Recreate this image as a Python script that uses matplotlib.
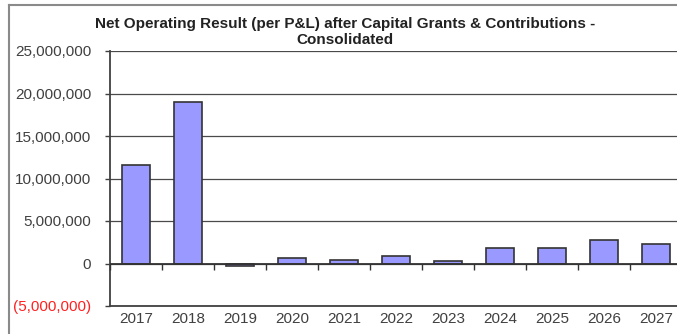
import numpy as np
import matplotlib
matplotlib.use("Agg")
import matplotlib.pyplot as plt
from matplotlib.lines import Line2D
from matplotlib.ticker import FuncFormatter

plt.rcParams['font.family'] = ['Liberation Sans', 'DejaVu Sans']

# Net operating result per year (AUD)
years = ["2017", "2018", "2019", "2020", "2021", "2022",
         "2023", "2024", "2025", "2026", "2027"]
net_result = [11560000, 19000000, -350000, 600000, 450000, 850000,
              350000, 1880000, 1850000, 2780000, 2240000]

y_ticks = [-5000000, 0, 5000000, 10000000, 15000000, 20000000, 25000000]
title = "Net Operating Result (per P&L) after Capital Grants & Contributions -\nConsolidated"

W, H = 677, 334
fig = plt.figure(figsize=(W / 100, H / 100), dpi=100)

# plot area in pixel terms
left, right, top, bottom = 110, 682, 51, 306
ax = fig.add_axes([left / W, (H - bottom) / H, (right - left) / W, (bottom - top) / H])

x = np.arange(len(years))
ax.bar(x, net_result, width=0.52, color="#9999FF", edgecolor="#333333",
       linewidth=1.2, zorder=3)

ax.set_xlim(-0.5, len(years) - 0.5)
ax.set_ylim(y_ticks[0], y_ticks[-1])
ax.set_yticks(y_ticks)


def money(v, pos):
    if v < 0:
        return "({:,.0f})".format(-v)
    return "{:,.0f}".format(v)


ax.yaxis.set_major_formatter(FuncFormatter(money))
ax.set_xticks(x)
ax.set_xticklabels(years)

ax.tick_params(axis="y", direction="out", length=3.5, width=1, color="#404040",
               labelsize=11, labelcolor="#404040", pad=10)
ax.tick_params(axis="x", length=0, labelsize=11, labelcolor="#404040", pad=4)
for lbl, v in zip(ax.get_yticklabels(), y_ticks):
    if v < 0:
        lbl.set_color("#FF2020")

ax.grid(axis="y", color="#4a4a4a", linewidth=0.9, zorder=0)
ax.set_axisbelow(True)

for s in ("top", "right"):
    ax.spines[s].set_visible(False)
for s in ("left", "bottom"):
    ax.spines[s].set_color("#404040")
    ax.spines[s].set_linewidth(1.3)

# category axis drawn at zero with boundary tick marks pointing down
ax.axhline(0, color="#333333", linewidth=1.3, zorder=4)
bounds = np.arange(len(years) + 1) - 0.5
ax.plot(bounds, np.zeros_like(bounds), ls="none", marker=3, ms=4,
        mew=1, color="#333333", clip_on=False, zorder=4)

fig.text(345 / W, 1 - 32 / H, title, ha="center", va="center",
         fontsize=11, fontweight="bold", color="#222222", linespacing=1.15)

# outer chart frame (only top and left edges fall inside the image)
fig.add_artist(Line2D([9 / W, 9 / W], [0, 1 - 5 / H], color="#8a8a8a",
                      linewidth=1.5, transform=fig.transFigure))
fig.add_artist(Line2D([9 / W, 1], [1 - 5 / H, 1 - 5 / H], color="#8a8a8a",
                      linewidth=1.5, transform=fig.transFigure))

fig.savefig("out.png", dpi=100)
